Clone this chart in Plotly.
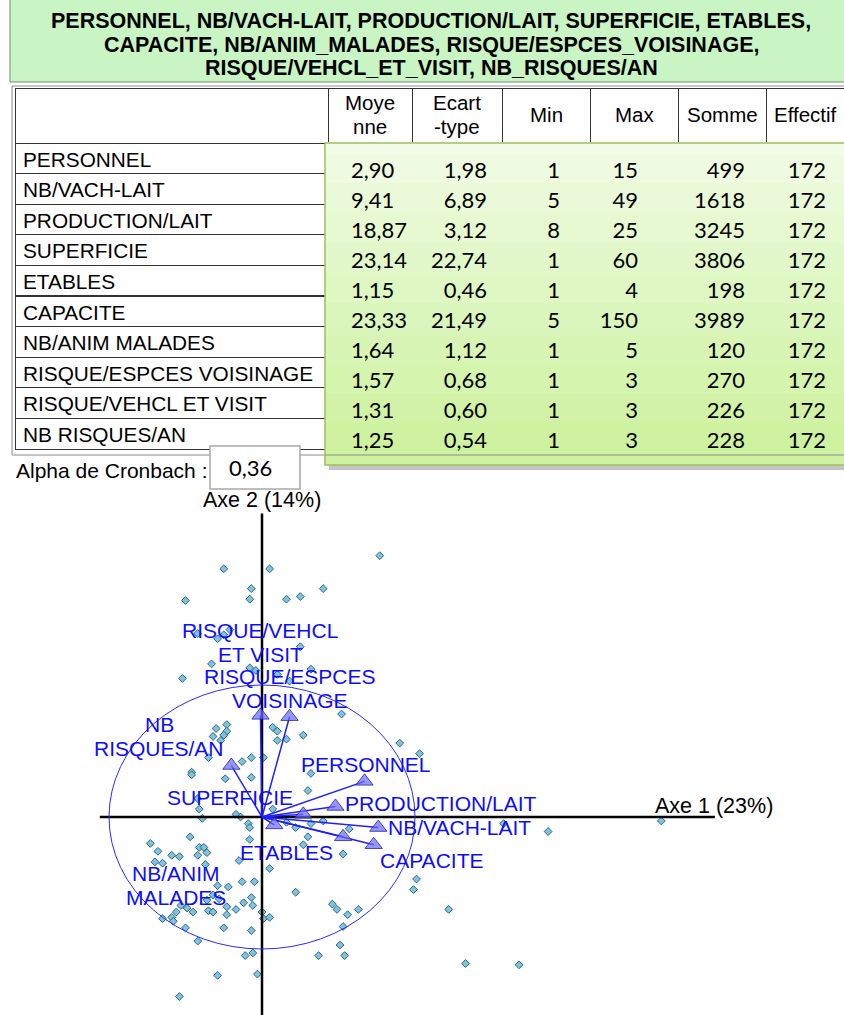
import plotly.graph_objects as go

W, H = 844, 1015

# Textes et données
titre = ["PERSONNEL, NB/VACH-LAIT, PRODUCTION/LAIT, SUPERFICIE, ETABLES,",
         "CAPACITE, NB/ANIM_MALADES, RISQUE/ESPCES_VOISINAGE,",
         "RISQUE/VEHCL_ET_VISIT, NB_RISQUES/AN"]

variables = ["PERSONNEL", "NB/VACH-LAIT", "PRODUCTION/LAIT", "SUPERFICIE", "ETABLES",
             "CAPACITE", "NB/ANIM MALADES", "RISQUE/ESPCES VOISINAGE",
             "RISQUE/VEHCL ET VISIT", "NB RISQUES/AN"]
entetes = ["", "Moye<br>nne", "Ecart<br>-type", "Min", "Max", "Somme", "Effectif"]

moyenne = [2.90, 9.41, 18.87, 23.14, 1.15, 23.33, 1.64, 1.57, 1.31, 1.25]
ecart_type = [1.98, 6.89, 3.12, 22.74, 0.46, 21.49, 1.12, 0.68, 0.60, 0.54]
val_min = [1, 5, 8, 1, 1, 5, 1, 1, 1, 1]
val_max = [15, 49, 25, 60, 4, 150, 5, 3, 3, 3]
somme = [499, 1618, 3245, 3806, 198, 3989, 120, 270, 226, 228]
effectif = [172, 172, 172, 172, 172, 172, 172, 172, 172, 172]
alpha_cronbach = 0.36

# Coordonnées des variables (cercle des corrélations)
load_x = [0.67, 0.76, 0.48, 0.27, 0.08, 0.73, 0.53, 0.18, -0.01, -0.20]
load_y = [0.27, -0.08, 0.08, 0.02, -0.06, -0.21, -0.15, 0.76, 0.77, 0.39]

# Etiquettes du graphique et leur position
labels_plot = ["PERSONNEL", "NB/VACH-LAIT", "PRODUCTION/LAIT", "SUPERFICIE", "ETABLES",
               "CAPACITE", "NB/ANIM<br>MALADES", "RISQUE/ESPCES<br>VOISINAGE",
               "RISQUE/VEHCL<br>ET VISIT", "NB<br>RISQUES/AN"]
label_x = [0.68, 1.29, 1.17, -0.21, 0.16, 1.11, -0.56, 0.18, -0.01, -0.67]
label_y = [0.40, -0.08, 0.10, 0.15, -0.27, -0.33, -0.52, 0.97, 1.32, 0.61]

# Individus
score_x = [0.77, -0.25, 0.05, -0.07, 0.40, -0.08, 0.16, 0.25, -0.50, -0.21,
           -0.42, -0.29, -0.25, 0.25, -0.33, -0.08, -0.04, -0.52, 0.10, 0.32,
           0.18, 0.52, -0.30, -0.23, -0.23, -0.32, -0.25, -0.27, 0.07, 0.10,
           0.10, 0.16, 0.27, 0.90, 1.03, -0.35, -0.13, -0.07, 0.01, -0.46,
           -0.46, -0.24, -0.07, 0.32, 0.30, -0.42, -0.41, -0.39, -0.17, -0.14,
           -0.09, -0.08, 0.07, 0.40, 0.32, 0.22, 0.16, 0.57, 0.30, 0.27,
           0.53, 1.58, 1.87, 2.61, -0.47, -0.08, -0.73, -0.68, -0.59, -0.54,
           -0.41, -0.38, -0.42, -0.36, -0.70, -0.65, -0.37, -0.15, 0.05, -0.13,
           -0.05, -0.29, -0.22, -0.36, -0.32, -0.28, -0.53, -0.49, -0.45, -0.56,
           -0.35, -0.32, -0.23, -0.17, -0.12, -0.07, -0.06, -0.23, 0.00, 0.01,
           0.05, -0.65, -0.59, -0.58, -0.50, -0.25, -0.07, -0.42, -0.06, -0.11,
           -0.03, -0.29, -0.54, 0.22, 0.46, 0.49, 0.56, 0.63, 0.53, 0.51,
           0.37, 0.54, 1.01, 0.99, 1.22, 1.33, 1.68]
score_y = [1.98, 1.88, 1.88, 1.73, 1.73, 1.65, 1.65, 1.67, 1.64, 1.42,
           1.39, 1.35, 1.38, 1.29, 1.16, 1.13, 1.11, 1.05, 1.08, 1.12,
           1.03, 0.78, 0.67, 0.70, 0.65, 0.61, 0.62, 0.58, 0.68, 0.65,
           0.58, 0.59, 0.62, 0.56, 0.48, 0.45, 0.42, 0.45, 0.45, 0.34,
           0.32, 0.29, 0.30, 0.33, 0.20, 0.14, 0.06, -0.01, 0.02, 0.00,
           -0.05, -0.08, 0.06, -0.03, -0.05, -0.08, -0.04, -0.09, -0.15, -0.21,
           -0.28, -0.05, -0.11, -0.03, -0.15, -0.17, -0.20, -0.26, -0.29, -0.30,
           -0.23, -0.23, -0.29, -0.27, -0.34, -0.35, -0.36, -0.33, -0.39, -0.49,
           -0.49, -0.52, -0.53, -0.63, -0.59, -0.62, -0.67, -0.69, -0.72, -0.72,
           -0.71, -0.72, -0.68, -0.70, -0.65, -0.61, -0.67, -0.74, -0.72, -0.77,
           -0.76, -0.77, -0.76, -0.79, -0.84, -0.84, -0.86, -0.94, -1.03, -1.05,
           -1.19, -1.20, -1.36, -0.57, -0.66, -0.70, -0.74, -0.70, -0.83, -0.97,
           -1.05, -1.05, -0.47, -0.55, -0.70, -1.11, -1.12]

axe1_x = [-1.06, 2.96]
axe2_y = [-1.5, 2.30]


def fx(p):
    return p / W


def fy(p):
    return 1 - p / H


def fr(v):
    return f"{v:.2f}".replace(".", ",")


POLICE = "Liberation Sans, Arial, sans-serif"
CHIFFRES = "Lato, Carlito, Calibri, sans-serif"

fig = go.Figure()

# Tableau des variables (cases d'en-tête et libellés)
largeurs = [313, 84, 90, 88, 88, 88, 78]
vide = [""] * len(variables)
fig.add_trace(go.Table(
    domain=dict(x=[fx(15), 1], y=[fy(450), fy(88)]),
    columnwidth=largeurs,
    header=dict(values=[""] * len(entetes), height=55, align="center",
                fill_color="white", line=dict(color="#333333", width=1),
                font=dict(family=POLICE, size=20, color="black")),
    cells=dict(values=[variables, vide, vide, vide, vide, vide, vide], height=30.6,
               align=["left"] + ["center"] * 6,
               fill_color="white", line=dict(color="#333333", width=1),
               font=dict(family=POLICE, size=20.8, color="black"))
))

# Encadré vert avec les statistiques
verts = ["#f3fce9", "#eefbe1", "#eafad9", "#e6f9d1", "#e2f8ca", "#def7c3",
         "#dbf6bc", "#d8f5b5", "#d5f4ae", "#d2f3a7", "#cff2a0"]
col_vide = [""] * len(variables)
fig.add_trace(go.Table(
    domain=dict(x=[fx(325), 1], y=[fy(456), fy(142)]),
    columnwidth=[18, 77, 75, 73, 78, 107, 81, 10],
    header=dict(values=[""] * 8, height=11, fill_color=verts[0],
                line=dict(color=verts[0], width=1), font=dict(size=2)),
    cells=dict(values=[col_vide, [fr(v) for v in moyenne], [fr(v) for v in ecart_type],
                       val_min, val_max, somme, effectif, col_vide],
               height=30.1,
               align=["left", "left", "right", "right", "right", "right", "right", "left"],
               fill_color=[verts[1:]] * 8, line=dict(color=[verts[1:]] * 8, width=1),
               font=dict(family=CHIFFRES, size=22, color="black"))
))

# Individus
fig.add_trace(go.Scatter(
    x=score_x, y=score_y, mode="markers",
    marker=dict(symbol="diamond", size=6, color="#7cc4e2",
                line=dict(color="#35657d", width=1)),
    hoverinfo="skip"
))

# Axes
fig.add_trace(go.Scatter(x=axe1_x, y=[0, 0], mode="lines",
                         line=dict(color="black", width=2.5), hoverinfo="skip"))
fig.add_trace(go.Scatter(x=[0, 0], y=axe2_y, mode="lines",
                         line=dict(color="black", width=2.5), hoverinfo="skip"))

# Flèches des variables
fx_l, fy_l = [], []
for a, b in zip(load_x, load_y):
    fx_l += [0, a, None]
    fy_l += [0, b, None]
fig.add_trace(go.Scatter(x=fx_l, y=fy_l, mode="lines",
                         line=dict(color="#1f1fff", width=1.5), hoverinfo="skip"))
fig.add_trace(go.Scatter(
    x=load_x, y=load_y, mode="markers",
    marker=dict(symbol="triangle-up", size=15, color="rgba(105,105,255,0.7)",
                line=dict(color="rgba(40,40,150,0.8)", width=1)),
    hoverinfo="skip"
))


def lignes_texte(texte, x, y, xref, yref, police, pas):
    morceaux = texte.split("<br>")
    n = len(morceaux)
    out = []
    for k, l in enumerate(morceaux):
        out.append(dict(x=x, y=y, xref=xref, yref=yref, text=l, showarrow=False,
                        xanchor="center", yanchor="middle",
                        yshift=(n - 1) * pas / 2 - k * pas, font=police))
    return out


annotations = []
for i, ligne in enumerate(titre):
    annotations.append(dict(x=fx(431), y=fy([21, 45, 68][i]), xref="paper", yref="paper",
                            text=ligne, showarrow=False, xanchor="center", yanchor="middle",
                            font=dict(family=POLICE, size=21.5, color="black", weight="bold")))

# textes d'en-tête du tableau, centrés dans les cases
bord = 15
for t, w in zip(entetes, largeurs):
    if t:
        annotations += lignes_texte(t, fx(bord + w / 2), fy(114), "paper", "paper",
                                    dict(family=POLICE, size=20.5, color="black"), 24)
    bord += w

for t, x, y in zip(labels_plot, label_x, label_y):
    annotations += lignes_texte(t, x, y, "x", "y",
                                dict(family=POLICE, size=21, color="#0c0cff"), 24)

annotations.append(dict(x=0, y=fy(500), xref="x", yref="paper", text="Axe 2 (14%)",
                        showarrow=False, xanchor="center", yanchor="middle",
                        font=dict(family=POLICE, size=21.5, color="black")))
annotations.append(dict(x=2.954, y=0.083, xref="x", yref="y", text="Axe 1 (23%)",
                        showarrow=False, xanchor="center", yanchor="middle",
                        font=dict(family=POLICE, size=21.5, color="black")))
annotations.append(dict(x=fx(14), y=fy(470), xref="paper", yref="paper",
                        text="Alpha de Cronbach :", xanchor="left", yanchor="middle",
                        showarrow=False, font=dict(family=POLICE, size=21, color="black")))
annotations.append(dict(x=fx(250), y=fy(468), xref="paper", yref="paper",
                        text=fr(alpha_cronbach), showarrow=False,
                        xanchor="center", yanchor="middle",
                        font=dict(family=CHIFFRES, size=22, color="black")))

shapes = [
    # bandeau du titre
    dict(type="rect", xref="paper", yref="paper", x0=fx(10), x1=fx(852), y0=fy(82), y1=fy(-2),
         fillcolor="#c9f4c4", line=dict(color="#6f8f6f", width=1), layer="below"),
    # cadre du tableau
    dict(type="rect", xref="paper", yref="paper", x0=fx(12), x1=fx(852), y0=fy(455), y1=fy(86),
         line=dict(color="#8c8c8c", width=1), layer="above"),
    # ombre et fond de l'encadré vert
    dict(type="rect", xref="paper", yref="paper", x0=fx(329), x1=fx(852), y0=fy(470), y1=fy(147),
         fillcolor="#c4c4c4", line=dict(width=0), layer="below"),
    dict(type="rect", xref="paper", yref="paper", x0=fx(325), x1=fx(852), y0=fy(465), y1=fy(143),
         fillcolor=verts[-1], line=dict(width=0), layer="below"),
    dict(type="rect", xref="paper", yref="paper", x0=fx(325), x1=fx(852), y0=fy(465), y1=fy(143),
         line=dict(color="#9fbf5f", width=1.5), layer="above"),
    # case de l'alpha
    dict(type="rect", xref="paper", yref="paper", x0=fx(210), x1=fx(300), y0=fy(489), y1=fy(446),
         fillcolor="white", line=dict(color="#a8a8a8", width=1.5), layer="above"),
    # cercle des corrélations
    dict(type="circle", xref="x", yref="y", x0=-1, x1=1, y0=-1, y1=1,
         line=dict(color="#2a2aff", width=1), layer="above"),
]

fig.update_layout(
    width=W, height=H,
    margin=dict(l=0, r=0, t=0, b=0),
    paper_bgcolor="white", plot_bgcolor="white",
    showlegend=False,
    xaxis=dict(domain=[0, 1], range=[-262 / 153, (W - 262) / 153], visible=False),
    yaxis=dict(domain=[0, fy(505)], range=[(817 - H) / 132, (817 - 505) / 132], visible=False),
    annotations=annotations,
    shapes=shapes,
)

fig.write_html("out.html", config={"displayModeBar": False},
               post_script="document.body.style.margin = '0px';")
